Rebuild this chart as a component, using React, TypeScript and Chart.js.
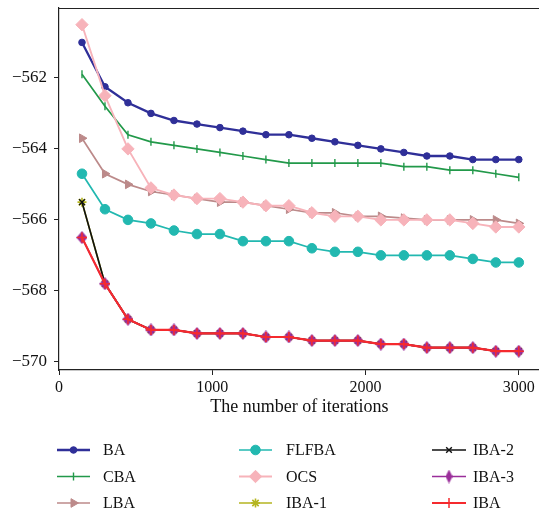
import React, { useEffect, useRef } from 'react';
import { Chart, registerables } from 'chart.js';
import { drawPoint } from 'chart.js/helpers';

Chart.register(...registerables);

const WIDTH = 539;
const HEIGHT = 514;
// the plotting frame runs past the right edge of the visible area
const CANVAS_WIDTH = 547;
const FONT = '"Liberation Serif", "DejaVu Serif", serif';

const iterations = [150, 300, 450, 600, 750, 900, 1050, 1200, 1350, 1500, 1650, 1800, 1950, 2100, 2250, 2400, 2550, 2700, 2850, 3000];
const xTickValues = [0, 1000, 2000, 3000];
const yTickValues = [-570, -568, -566, -564, -562];

const BA = [-561.0, -562.25, -562.7, -563.0, -563.2, -563.3, -563.4, -563.5, -563.6, -563.6, -563.7, -563.8, -563.9, -564.0, -564.1, -564.2, -564.2, -564.3, -564.3, -564.3];
const CBA = [-561.9, -562.8, -563.6, -563.8, -563.9, -564.0, -564.1, -564.2, -564.3, -564.4, -564.4, -564.4, -564.4, -564.4, -564.5, -564.5, -564.6, -564.6, -564.7, -564.8];
const LBA = [-563.7, -564.7, -565.0, -565.2, -565.3, -565.4, -565.5, -565.5, -565.6, -565.7, -565.8, -565.8, -565.9, -565.9, -565.95, -566.0, -566.0, -566.0, -566.0, -566.1];
const FLFBA = [-564.7, -565.7, -566.0, -566.1, -566.3, -566.4, -566.4, -566.6, -566.6, -566.6, -566.8, -566.9, -566.9, -567.0, -567.0, -567.0, -567.0, -567.1, -567.2, -567.2];
const OCS = [-560.5, -562.5, -564.0, -565.1, -565.3, -565.4, -565.4, -565.5, -565.6, -565.6, -565.8, -565.9, -565.9, -566.0, -566.0, -566.0, -566.0, -566.1, -566.2, -566.2];
const IBA1 = [-565.5, -567.8, -568.8, -569.1, -569.1, -569.2, -569.2, -569.2, -569.3, -569.3, -569.4, -569.4, -569.4, -569.5, -569.5, -569.6, -569.6, -569.6, -569.7, -569.7];
const IBA2 = [-565.5, -567.8, -568.8, -569.1, -569.1, -569.2, -569.2, -569.2, -569.3, -569.3, -569.4, -569.4, -569.4, -569.5, -569.5, -569.6, -569.6, -569.6, -569.7, -569.7];
const IBA3 = [-566.5, -567.8, -568.8, -569.1, -569.1, -569.2, -569.2, -569.2, -569.3, -569.3, -569.4, -569.4, -569.4, -569.5, -569.5, -569.6, -569.6, -569.6, -569.7, -569.7];
const IBA = [-566.5, -567.8, -568.8, -569.1, -569.1, -569.2, -569.2, -569.2, -569.3, -569.3, -569.4, -569.4, -569.4, -569.5, -569.5, -569.6, -569.6, -569.6, -569.7, -569.7];

// Narrow diamond marker used for IBA-3
function thinDiamond(color: string, w: number, h: number) {
  const c = document.createElement('canvas');
  c.width = w;
  c.height = h;
  const g = c.getContext('2d')!;
  g.fillStyle = color;
  g.beginPath();
  g.moveTo(w / 2, 0);
  g.lineTo(w, h / 2);
  g.lineTo(w / 2, h);
  g.lineTo(0, h / 2);
  g.closePath();
  g.fill();
  return c;
}

type Series = {
  label: string;
  values: number[];
  color: string;
  fillColor?: string;
  pointStyle: any;
  legendStyle?: any;
  radius: number;
  rotation?: number;
  lineWidth: number;
  pointBorderWidth: number;
};

function buildSeries(): Series[] {
  return [
    { label: 'BA', values: BA, color: '#2f2f98', pointStyle: 'circle', radius: 3.3, lineWidth: 2.3, pointBorderWidth: 1 },
    { label: 'CBA', values: CBA, color: '#22994a', pointStyle: 'line', radius: 4, rotation: 90, lineWidth: 1.7, pointBorderWidth: 1.4 },
    { label: 'LBA', values: LBA, color: '#bc8a8a', pointStyle: 'triangle', radius: 5, rotation: 90, lineWidth: 1.7, pointBorderWidth: 1 },
    { label: 'FLFBA', values: FLFBA, color: '#22b8b0', pointStyle: 'circle', radius: 4.8, lineWidth: 1.7, pointBorderWidth: 1 },
    { label: 'OCS', values: OCS, color: '#f7b3ba', pointStyle: 'rectRot', radius: 6.2, lineWidth: 1.9, pointBorderWidth: 1 },
    { label: 'IBA-1', values: IBA1, color: '#b5b520', pointStyle: 'star', radius: 4.5, lineWidth: 1.7, pointBorderWidth: 1.6 },
    { label: 'IBA-2', values: IBA2, color: '#111111', pointStyle: 'crossRot', radius: 4, lineWidth: 1.7, pointBorderWidth: 1.4 },
    {
      label: 'IBA-3', values: IBA3, color: '#9a2e9a',
      pointStyle: thinDiamond('#9a2e9a', 11, 13), legendStyle: thinDiamond('#9a2e9a', 7, 14),
      radius: 5, lineWidth: 1.7, pointBorderWidth: 1,
    },
    { label: 'IBA', values: IBA, color: '#f52a2e', pointStyle: 'cross', radius: 5, lineWidth: 2.2, pointBorderWidth: 1.5 },
  ];
}

// Three-column legend below the axes: line sample, marker and name
function legendPlugin(series: Series[]) {
  const cols = [
    { x0: 57, x1: 90, tx: 103 },
    { x0: 239, x1: 272, tx: 286 },
    { x0: 432, x1: 466, tx: 473 },
  ];
  const rows = [450, 476.5, 503];
  return {
    id: 'gridLegend',
    afterDraw(chart: Chart) {
      const ctx = chart.ctx;
      ctx.save();
      series.forEach((s, i) => {
        const col = cols[Math.floor(i / 3)];
        const y = rows[i % 3];
        ctx.strokeStyle = s.color;
        ctx.lineWidth = s.lineWidth;
        ctx.beginPath();
        ctx.moveTo(col.x0, y);
        ctx.lineTo(col.x1, y);
        ctx.stroke();
        ctx.fillStyle = s.fillColor || s.color;
        ctx.strokeStyle = s.color;
        ctx.lineWidth = s.pointBorderWidth;
        drawPoint(ctx, {
          pointStyle: s.legendStyle || s.pointStyle,
          radius: s.radius,
          rotation: s.rotation || 0,
          borderWidth: s.pointBorderWidth,
        } as any, (col.x0 + col.x1) / 2, y);
        ctx.fillStyle = '#111111';
        ctx.font = `16px ${FONT}`;
        ctx.textAlign = 'left';
        ctx.textBaseline = 'middle';
        ctx.fillText(s.label, col.tx, y + 1);
      });
      ctx.restore();
    },
  };
}

// Top frame line of the plotting area
const topFramePlugin = {
  id: 'topFrame',
  afterDraw(chart: Chart) {
    const { ctx, chartArea } = chart;
    ctx.save();
    ctx.strokeStyle = '#222222';
    ctx.lineWidth = 1.2;
    ctx.beginPath();
    ctx.moveTo(chartArea.left, chartArea.top + 0.5);
    ctx.lineTo(chartArea.right, chartArea.top + 0.5);
    ctx.stroke();
    ctx.restore();
  },
};

export default function App() {
  const canvasRef = useRef<HTMLCanvasElement>(null);

  useEffect(() => {
    const canvas = canvasRef.current;
    if (!canvas) return;
    const series = buildSeries();
    const n = series.length;
    const chart = new Chart(canvas, {
      type: 'line',
      data: {
        datasets: series.map((s, i) => ({
          label: s.label,
          data: iterations.map((x, k) => ({ x, y: s.values[k] })),
          borderColor: s.color,
          backgroundColor: s.fillColor || s.color,
          borderWidth: s.lineWidth,
          pointStyle: s.pointStyle,
          pointRadius: s.radius,
          pointHoverRadius: s.radius,
          pointRotation: s.rotation || 0,
          pointBorderColor: s.color,
          pointBackgroundColor: s.fillColor || s.color,
          pointBorderWidth: s.pointBorderWidth,
          tension: 0,
          fill: false,
          order: n - i,
        })),
      },
      options: {
        responsive: false,
        animation: false,
        devicePixelRatio: 1,
        layout: { padding: { left: 0, right: 0, top: 8, bottom: 96 } },
        plugins: {
          legend: { display: false },
          tooltip: { enabled: false },
        },
        scales: {
          x: {
            type: 'linear',
            min: 0,
            max: 3137,
            afterBuildTicks: (scale: any) => {
              scale.ticks = xTickValues.map((v) => ({ value: v }));
            },
            afterFit: (scale: any) => {
              scale.height = 48;
              scale.paddingLeft = 0;
              scale.paddingRight = 0;
            },
            grid: { drawOnChartArea: false, drawTicks: true, tickLength: 5, color: '#222222' },
            border: { display: true, color: '#222222', width: 1.2 },
            ticks: {
              color: '#111111',
              padding: 3,
              maxRotation: 0,
              font: { family: FONT, size: 16 },
              callback: (v: any) => String(v),
            },
            title: {
              display: true,
              text: 'The number of iterations',
              color: '#111111',
              font: { family: FONT, size: 18 },
              padding: { top: 0, bottom: 0 },
            },
          },
          y: {
            type: 'linear',
            min: -570.23,
            max: -560.03,
            afterBuildTicks: (scale: any) => {
              scale.ticks = yTickValues.map((v) => ({ value: v }));
            },
            afterFit: (scale: any) => {
              scale.width = 59;
              scale.paddingTop = 0;
              scale.paddingBottom = 0;
            },
            grid: { drawOnChartArea: false, drawTicks: true, tickLength: 5, color: '#222222' },
            border: { display: true, color: '#222222', width: 1.2 },
            ticks: {
              color: '#111111',
              padding: 7,
              font: { family: FONT, size: 17 },
              callback: (v: any) => (v < 0 ? '\u2212' + Math.abs(v) : String(v)),
            },
          },
        },
      },
      plugins: [topFramePlugin, legendPlugin(series)],
    });
    return () => chart.destroy();
  }, []);

  return (
    <div style={{ position: 'absolute', left: 0, top: 0, width: WIDTH, height: HEIGHT, overflow: 'hidden', background: '#ffffff' }}>
      <canvas ref={canvasRef} width={CANVAS_WIDTH} height={HEIGHT} style={{ display: 'block' }} />
    </div>
  );
}
